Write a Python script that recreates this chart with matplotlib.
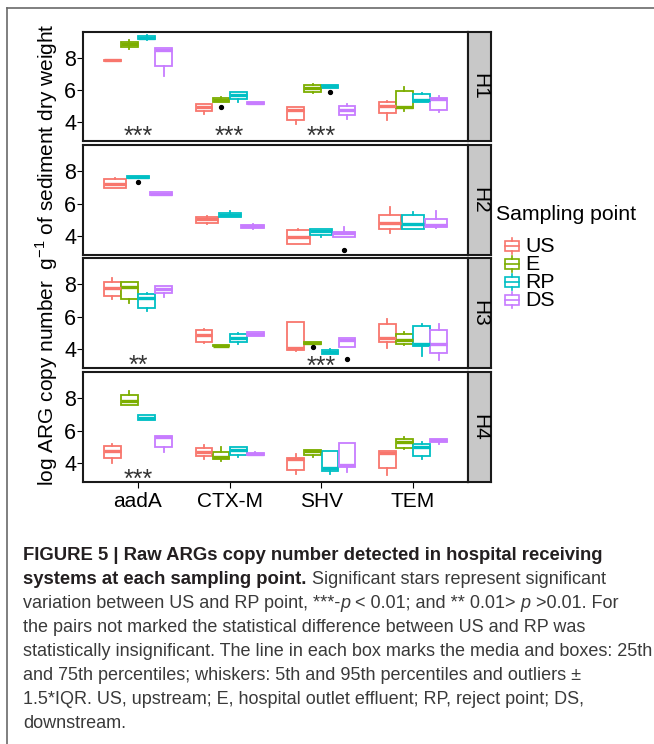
import matplotlib
matplotlib.use('Agg')
import matplotlib.pyplot as plt
from matplotlib.patches import Rectangle
from matplotlib.transforms import offset_copy

plt.rcParams['font.family'] = ['Liberation Sans', 'DejaVu Sans']
plt.rcParams['mathtext.fontset'] = 'custom'
plt.rcParams['mathtext.rm'] = 'Liberation Sans'

W, H = 654, 744

GENES = ['aadA', 'CTX-M', 'SHV', 'TEM']
POINTS = ['US', 'E', 'RP', 'DS']
HOSPITALS = ['H1', 'H2', 'H3', 'H4']
COLORS = ['#F8766D', '#7CAE00', '#00BFC4', '#C77CFF']

# box stats per gene: (whisker low, q1, median, q3, whisker high)
H1_US = [(7.80, 7.82, 7.86, 7.90, 7.92), (4.48, 4.69, 4.94, 5.11, 5.11),
         (3.85, 4.10, 4.77, 4.94, 4.94), (4.14, 4.56, 5.02, 5.23, 5.32)]
H1_E = [(8.59, 8.71, 8.88, 9.05, 9.13), (5.23, 5.23, 5.38, 5.48, 5.55),
        (5.82, 5.90, 6.11, 6.32, 6.36), (4.69, 4.86, 4.94, 5.95, 6.20)]
H1_RP = [(9.17, 9.20, 9.30, 9.40, 9.45), (5.27, 5.44, 5.69, 5.86, 5.88),
         (6.11, 6.11, 6.24, 6.32, 6.32), (5.23, 5.23, 5.38, 5.74, 5.82)]
H1_DS = [(6.91, 7.50, 8.55, 8.67, 8.67), (5.15, 5.15, 5.20, 5.25, 5.25),
         (4.18, 4.44, 4.73, 5.02, 5.11), (4.65, 4.77, 5.44, 5.53, 5.61)]

H2_US = [(6.95, 7.00, 7.25, 7.52, 7.58), (4.75, 4.81, 5.02, 5.19, 5.20),
         (3.47, 3.47, 3.93, 4.35, 4.39), (4.14, 4.44, 4.77, 5.32, 5.78)]
H2_E = [None, None, None, None]
H2_RP = [(7.58, 7.58, 7.66, 7.75, 7.75), (5.19, 5.19, 5.32, 5.44, 5.53),
         (3.93, 4.06, 4.27, 4.39, 4.39), (4.44, 4.44, 4.73, 5.27, 5.48)]
H2_DS = [(6.53, 6.53, 6.62, 6.70, 6.70), (4.39, 4.48, 4.58, 4.69, 4.75),
         (3.89, 3.89, 4.14, 4.23, 4.56), (4.48, 4.52, 4.65, 5.02, 5.53)]

H3_US = [(7.08, 7.29, 7.79, 8.13, 8.38), (4.35, 4.44, 4.86, 5.15, 5.23),
         (3.85, 3.89, 4.05, 5.65, 5.65), (4.06, 4.44, 4.69, 5.53, 5.86)]
H3_E = [(6.87, 7.08, 7.83, 8.13, 8.13), (4.14, 4.14, 4.20, 4.25, 4.25),
        (4.27, 4.27, 4.35, 4.44, 4.44), (4.23, 4.31, 4.56, 4.94, 5.06)]
H3_RP = [(6.32, 6.53, 7.16, 7.41, 7.45), (4.31, 4.44, 4.69, 4.90, 4.98),
         (3.68, 3.68, 3.81, 3.89, 4.00), (3.56, 4.14, 4.27, 5.40, 5.53)]
H3_DS = [(7.25, 7.45, 7.71, 7.92, 7.92), (4.77, 4.77, 4.90, 5.06, 5.06),
         (4.10, 4.10, 4.52, 4.69, 4.69), (3.30, 3.72, 4.31, 5.19, 5.57)]

H4_US = [(4.00, 4.29, 4.75, 5.04, 5.17), (4.25, 4.42, 4.67, 4.92, 5.13),
         (3.32, 3.55, 4.25, 4.29, 4.54), (3.24, 3.66, 4.58, 4.75, 4.75)]
H4_E = [(7.60, 7.60, 7.85, 8.23, 8.44), (4.08, 4.21, 4.37, 4.67, 4.96),
        (4.37, 4.46, 4.70, 4.79, 4.79), (4.83, 4.92, 5.29, 5.50, 5.59)]
H4_RP = [(6.64, 6.68, 6.80, 6.97, 6.97), (4.37, 4.50, 4.79, 4.96, 4.96),
         (3.32, 3.49, 3.66, 4.71, 4.71), (4.21, 4.42, 5.00, 5.17, 5.29)]
H4_DS = [(4.67, 4.96, 5.59, 5.67, 5.67), (4.46, 4.46, 4.54, 4.63, 4.67),
         (3.45, 3.74, 3.87, 5.21, 5.21), (5.17, 5.29, 5.42, 5.50, 5.50)]

DATA = [[H1_US, H1_E, H1_RP, H1_DS],
        [H2_US, H2_E, H2_RP, H2_DS],
        [H3_US, H3_E, H3_RP, H3_DS],
        [H4_US, H4_E, H4_RP, H4_DS]]

# outliers: (hospital, gene, point, value)
OUTLIERS = [('H1', 'CTX-M', 'E', 4.94), ('H1', 'SHV', 'RP', 5.90),
            ('H2', 'aadA', 'RP', 7.33), ('H2', 'SHV', 'DS', 3.14),
            ('H3', 'SHV', 'E', 4.10), ('H3', 'SHV', 'DS', 3.39)]

# significance stars: (hospital, gene, label, y)
STARS = [('H1', 'aadA', '***', 3.47), ('H1', 'CTX-M', '***', 3.47),
         ('H1', 'SHV', '***', 3.47), ('H3', 'aadA', '**', 3.39),
         ('H3', 'SHV', '***', 3.30), ('H4', 'aadA', '***', 3.36)]

PANELS_PX = [(32, 141), (145, 255), (258, 368), (372, 482)]
X0, X1 = 83, 468
STRIP_W = 23
STAR_SIZE = 18


def rect_px(x0, y0, x1, y1):
    return [x0 / W, 1 - y1 / H, (x1 - x0) / W, (y1 - y0) / H]


def positions(series):
    present = [i for i, s in enumerate(series) if s is not None]
    w = 0.75 / len(present)
    pos = {}
    for k, i in enumerate(present):
        pos[i] = (k - (len(present) - 1) / 2) * w
    return pos, w


fig = plt.figure(figsize=(W / 100, H / 100), dpi=100)

for p, (top, bot) in enumerate(PANELS_PX):
    ax = fig.add_axes(rect_px(X0, top, X1, bot))
    panel = DATA[p]
    for g in range(len(GENES)):
        series = [panel[s][g] for s in range(len(POINTS))]
        pos, w = positions(series)
        for s, st in enumerate(series):
            if st is None:
                continue
            stats = [dict(whislo=st[0], q1=st[1], med=st[2], q3=st[3],
                          whishi=st[4], fliers=[])]
            c = COLORS[s]
            ax.bxp(stats, positions=[g + 1 + pos[s]], widths=w * 0.97,
                   showcaps=False, showfliers=False, patch_artist=True,
                   boxprops=dict(facecolor='white', edgecolor=c, linewidth=1.3),
                   medianprops=dict(color=c, linewidth=2.4, solid_capstyle='butt'),
                   whiskerprops=dict(color=c, linewidth=1.3), manage_ticks=False)
        for hosp, gene, pt, val in OUTLIERS:
            if hosp == HOSPITALS[p] and gene == GENES[g]:
                s = POINTS.index(pt)
                ax.plot(g + 1 + pos[s], val, 'o', color='black', markersize=2.8, zorder=5)
    for hosp, gene, lab, yv in STARS:
        if hosp == HOSPITALS[p]:
            tr = offset_copy(ax.transData, fig=fig, y=-0.56 * STAR_SIZE, units='points')
            ax.text(GENES.index(gene) + 1, yv, lab, transform=tr, fontsize=STAR_SIZE,
                    ha='center', va='baseline', color='#333333', clip_on=False)
    ax.set_xlim(0.4, 4.6)
    ax.set_ylim(2.8, 9.65)
    ax.set_yticks([4, 6, 8])
    ax.set_xticks(range(1, 5))
    ax.tick_params(axis='y', direction='out', length=4, width=0.8, pad=1,
                   labelsize=15.5, colors='black')
    if p == 3:
        ax.set_xticklabels(GENES)
        ax.tick_params(axis='x', direction='out', length=4, width=0.8, pad=3,
                       labelsize=15)
    else:
        ax.tick_params(axis='x', length=0, labelbottom=False)
    for sp in ax.spines.values():
        sp.set_linewidth(1.5)
        sp.set_color('#1a1a1a')

    sax = fig.add_axes(rect_px(X1, top, X1 + STRIP_W, bot))
    sax.set_facecolor('#C8C8C8')
    sax.set_xticks([])
    sax.set_yticks([])
    for sp in sax.spines.values():
        sp.set_linewidth(1.5)
        sp.set_color('#1a1a1a')
    sax.text(0.5, 0.5, HOSPITALS[p], rotation=-90, ha='center', va='center',
             fontsize=15, transform=sax.transAxes)

fig.text(47 / W, 1 - 255 / H,
         r'log ARG copy number  g$^{\mathregular{-1}}$ of sediment dry weight',
         rotation=90, ha='center', va='center', fontsize=15)

# overlay in pixel coordinates for legend, frame and caption
ov = fig.add_axes([0, 0, 1, 1], zorder=-1)
ov.set_xlim(0, W)
ov.set_ylim(H, 0)
ov.axis('off')

ov.plot([7, W + 10], [8, 8], color='#6a6a6a', linewidth=1.2, clip_on=False)
ov.plot([7, 7], [8, H + 10], color='#6a6a6a', linewidth=1.2, clip_on=False)

ov.text(496, 215, 'Sampling point', fontsize=15.3, ha='left', va='center')
for i, (lab, c) in enumerate(zip(POINTS, COLORS)):
    yc = 246 + 18 * i
    ov.add_patch(Rectangle((505, yc - 5), 14, 10, facecolor='white', edgecolor=c, linewidth=1.2))
    ov.plot([505, 519], [yc, yc], color=c, linewidth=1.2)
    ov.plot([512, 512], [yc - 8, yc - 5], color=c, linewidth=1.2)
    ov.plot([512, 512], [yc + 5, yc + 8], color=c, linewidth=1.2)
    ov.text(525, yc, lab, fontsize=15.3, ha='left', va='center')

CAPTION = [
    [('FIGURE 5 | Raw ARGs copy number detected in hospital receiving', 'b', 0)],
    [('systems at each sampling point.', 'b', 1), ('Significant stars represent significant', 'n', 0)],
    [('variation between US and RP point, ***-', 'n', 0), ('p', 'i', 1),
     ('< 0.01; and ** 0.01>', 'n', 1), ('p', 'i', 1), ('>0.01. For', 'n', 0)],
    [('the pairs not marked the statistical difference between US and RP was', 'n', 0)],
    [('statistically insignificant. The line in each box marks the media and boxes: 25th', 'n', 0)],
    [('and 75th percentiles; whiskers: 5th and 95th percentiles and outliers \u00b1', 'n', 0)],
    [('1.5*IQR. US, upstream; E, hospital outlet effluent; RP, reject point; DS,', 'n', 0)],
    [('downstream.', 'n', 0)],
]
CAP_SIZE = 13
BOLD_SIZE = 13.3
renderer = fig.canvas.get_renderer()
for li, runs in enumerate(CAPTION):
    x = 23
    y = 560 + 24 * li
    for txt, kind, gap in runs:
        size = BOLD_SIZE if kind == 'b' else CAP_SIZE
        t = ov.text(x, y, txt, fontsize=size, ha='left', va='baseline',
                    fontweight='bold' if kind == 'b' else 'normal',
                    fontstyle='italic' if kind == 'i' else 'normal',
                    color='#231f20' if kind == 'b' else '#3a3a3a')
        x += t.get_window_extent(renderer).width + gap * 0.278 * size * 100 / 72

fig.savefig('out.png', dpi=100)
